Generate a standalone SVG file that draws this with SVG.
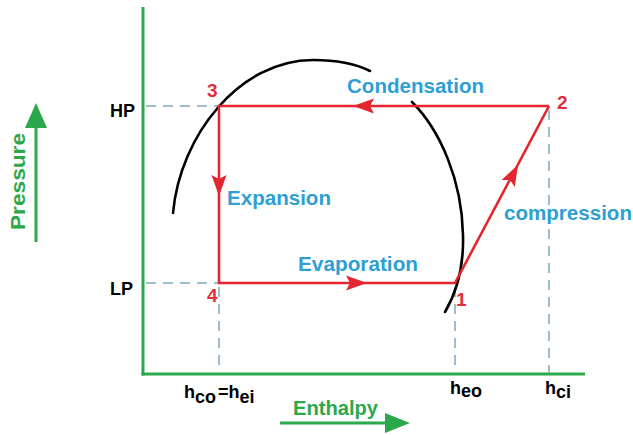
<svg xmlns="http://www.w3.org/2000/svg" width="633" height="435" viewBox="0 0 633 435">
<style>
.axis{stroke:#2ca84c;stroke-width:3;fill:none}
.dash{stroke:#7fa8c0;stroke-width:1.5;stroke-dasharray:10 7;fill:none}
.cyc{stroke:#e3262f;stroke-width:2.6;fill:none;stroke-linejoin:miter}
.dome{stroke:#000;stroke-width:2.6;fill:none;stroke-linecap:round}
.lbl{font-family:"Liberation Sans",Arial,sans-serif;font-weight:bold;font-size:20px;fill:#2e9fd4}
.num{font-family:"Liberation Sans",Arial,sans-serif;font-weight:bold;font-size:19px;fill:#df2f3a}
.blk{font-family:"Liberation Sans",Arial,sans-serif;font-weight:bold;font-size:18px;fill:#000}
.grn{font-family:"Liberation Sans",Arial,sans-serif;font-weight:bold;font-size:20px;fill:#2ca84c}
.sym{font-family:"Liberation Sans",Arial,sans-serif;font-weight:bold;font-size:18px;fill:#000}
</style>
<defs>
<path id="ah" d="M0,0 L-21,-7.5 L-17,0 L-21,7.5 Z" fill="#e3262f"/>
</defs>
<g id="axes">
<line class="axis" x1="143" y1="7" x2="143" y2="375.5"/>
<line class="axis" x1="141.5" y1="374" x2="585" y2="374"/>
</g>
<g id="guides">
<line class="dash" x1="146" y1="106" x2="219" y2="106"/>
<line class="dash" x1="146" y1="283" x2="219" y2="283"/>
<line class="dash" x1="219" y1="287" x2="219" y2="372"/>
<line class="dash" x1="455" y1="287" x2="455" y2="372"/>
<line class="dash" x1="549" y1="110" x2="549" y2="372"/>
</g>
<g id="dome">
<path class="dome" d="M173,213 C180,135 240,60 313,60 C340,60 358,65 370,71"/>
<path class="dome" d="M412,102 C440,130 462,180 463,235 C464,270 455,295 445,312"/>
</g>
<g id="connectors">
<path class="cyc" d="M549,106 L219,106 L219,283 L455,283 L549,106"/>
<use href="#ah" transform="translate(219,196) rotate(90)"/>
<use href="#ah" transform="translate(367,283)"/>
<use href="#ah" transform="translate(353,106) rotate(180)"/>
<use href="#ah" transform="translate(518,165) rotate(-62)"/>
</g>
<g id="state-labels">
<text class="num" x="207" y="97">3</text>
<text class="num" x="557" y="109">2</text>
<text class="num" x="207" y="302">4</text>
<text class="num" x="456" y="306">1</text>
</g>
<g id="process-labels">
<text class="lbl" x="347" y="93" textLength="137" lengthAdjust="spacingAndGlyphs">Condensation</text>
<text class="lbl" x="227" y="205" textLength="104" lengthAdjust="spacingAndGlyphs">Expansion</text>
<text class="lbl" x="298" y="271" textLength="120" lengthAdjust="spacingAndGlyphs">Evaporation</text>
<text class="lbl" x="504" y="220" textLength="128" lengthAdjust="spacingAndGlyphs">compression</text>
</g>
<g id="axis-labels">
<text class="blk" x="110" y="117">HP</text>
<text class="blk" x="110" y="295">LP</text>
<text class="sym" x="184" y="398">h<tspan dy="5">co</tspan><tspan dy="-5" dx="2">=h</tspan><tspan dy="5">ei</tspan></text>
<text class="sym" x="450" y="394">h<tspan dy="3">eo</tspan></text>
<text class="sym" x="545" y="394">h<tspan dy="4">ci</tspan></text>
</g>
<g id="pressure">
<text class="grn" transform="translate(25,230) rotate(-90)" textLength="97" lengthAdjust="spacingAndGlyphs">Pressure</text>
<line stroke="#2ca84c" stroke-width="3" x1="36" y1="242" x2="36" y2="124"/>
<path d="M36,103 L47,128 L25,128 Z" fill="#2ca84c"/>
</g>
<g id="enthalpy">
<text class="grn" x="293" y="415" textLength="85" lengthAdjust="spacingAndGlyphs">Enthalpy</text>
<line stroke="#2ca84c" stroke-width="3" x1="280" y1="423" x2="388" y2="423"/>
<path d="M410,423 L385,413 L385,433 Z" fill="#2ca84c"/>
</g>
</svg>
